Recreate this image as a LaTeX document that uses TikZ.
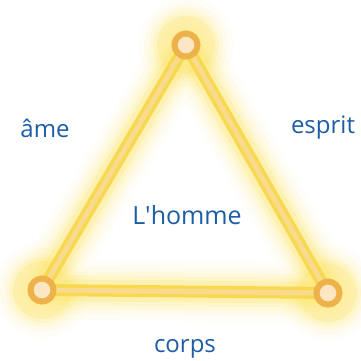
\documentclass[tikz,border=0pt]{standalone}
\usepackage{fontspec}
\setmainfont{Open Sans}
\usepackage{tikz}
\usetikzlibrary{backgrounds}

\definecolor{glowyellow}{HTML}{FBE15A}
\definecolor{linegold}{HTML}{F8D84E}
\definecolor{linecore}{HTML}{F9DCA0}
\definecolor{ringorange}{HTML}{EDB24A}
\definecolor{ringfill}{HTML}{FCE6C4}
\definecolor{textblue}{HTML}{1C5DA6}

\begin{document}
\begin{tikzpicture}[
    x=0.5pt, y=-0.5pt,
    glow/.style={line cap=round, line join=round, draw=glowyellow},
    vertex/.style={circle, draw=ringorange, line width=3pt, fill=ringfill, minimum size=11.5pt, inner sep=0pt},
    word/.style={text=textblue, font=\fontsize{12}{14}\selectfont}
  ]
    \useasboundingbox (0,0) rectangle (361,361);

    % sommets
    \node[vertex] (top) at (186,45) {};
    \node[vertex] (left) at (42,290) {};
    \node[vertex] (right) at (328,293) {};

    % textes
    \node[word] (ame) at (45,128) {âme};
    \node[word] (esprit) at (323,128) {esprit};
    \node[word, font=\fontsize{12.5}{14}\selectfont] (homme) at (187,215) {L\textquotesingle homme};
    \node[word] (corps) at (185,349) {corps};

    % halo du triangle
    \begin{pgfonlayer}{background}
      \foreach \w/\o in {60/0.05, 48/0.07, 38/0.1, 30/0.14, 22/0.22} {
        \draw[glow, line width=\w*0.5pt, opacity=\o] (top.center) -- (left.center) -- (right.center) -- cycle;
        \fill[glowyellow, opacity=\o] (top) circle (\w*0.5pt*0.5+9pt);
        \fill[glowyellow, opacity=\o] (left) circle (\w*0.5pt*0.5+9pt);
        \fill[glowyellow, opacity=\o] (right) circle (\w*0.5pt*0.5+9pt);
      }
      \draw[line width=6pt, draw=linegold, line join=round] (top.center) -- (left.center) -- (right.center) -- cycle;
      \draw[line width=2.5pt, draw=linecore, line join=round, opacity=0.8] (top.center) -- (left.center) -- (right.center) -- cycle;
    \end{pgfonlayer}
\end{tikzpicture}
\end{document}
